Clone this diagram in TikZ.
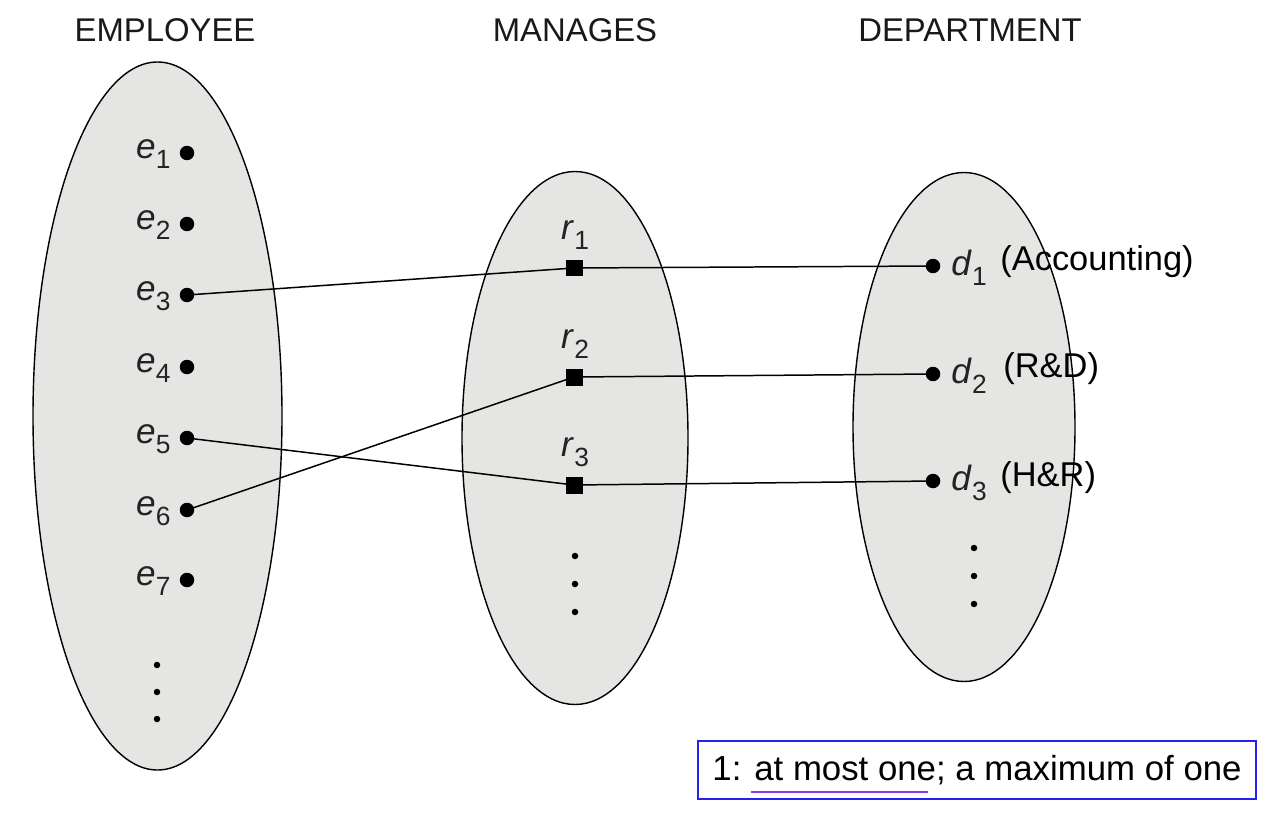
\documentclass[tikz,border=0pt]{standalone}
\usepackage{fontspec}
\setmainfont{Liberation Sans}
\definecolor{setfill}{RGB}{229,229,227}
\definecolor{labgray}{RGB}{35,35,35}
\definecolor{boxblue}{RGB}{35,35,235}
\definecolor{ulpurple}{RGB}{140,60,225}
\newcommand{\lab}[2]{\fontsize{20pt}{22pt}\selectfont\textit{#1}\kern0.2pt\raisebox{-0.55ex}{\fontsize{15pt}{16pt}\selectfont #2}}
\tikzset{
  setell/.style={ellipse, draw=black, line width=0.8pt, fill=setfill, inner sep=0pt},
  pt/.style={circle, fill=black, inner sep=0pt, minimum size=0.29cm},
  sq/.style={rectangle, fill=black, inner sep=0pt, minimum size=0.34cm},
  sm/.style={circle, fill=black, inner sep=0pt, minimum size=0.13cm},
  title/.style={font=\fontsize{18.7pt}{20pt}\selectfont, text=black!90},
  elab/.style={text=labgray, inner sep=0pt},
  extra/.style={font=\fontsize{19.6pt}{21pt}\selectfont, text=black, inner sep=0pt, anchor=west},
  link/.style={line width=0.85pt, black}
}
\usetikzlibrary{shapes.geometric}
\begin{document}
\begin{tikzpicture}[x=0.02cm,y=-0.02cm]
\useasboundingbox (0,0) rectangle (1280,814);
% sets
\node[setell, minimum width=249*0.02cm, minimum height=708*0.02cm] (E) at (157.5,416) {};
\node[setell, minimum width=226*0.02cm, minimum height=533*0.02cm] (M) at (575,438) {};
\node[setell, minimum width=222*0.02cm, minimum height=509*0.02cm] (D) at (964,427) {};
% titles
\node[title] (tE) at (165,30) {EMPLOYEE};
\node[title] (tM) at (575,30) {MANAGES};
\node[title] (tD) at (970,30) {DEPARTMENT};
% employees
\foreach \i/\y in {1/153,2/224,3/295,4/367,5/438,6/510,7/580}{
  \node[pt] (e\i) at (187,\y) {};
  \node[elab, anchor=east] (le\i) at (171,\y+1) {\lab{e}{\i}};
}
\node[sm] (ed1) at (157,665) {};
\node[sm] (ed2) at (157,692) {};
\node[sm] (ed3) at (157,719) {};
% relationships
\foreach \i/\y in {1/268,2/377,3/485}{
  \node[sq] (r\i) at (574,\y) {};
  \node[elab] (lr\i) at (575,\y-33) {\lab{r}{\i}};
}
\node[sm] (rd1) at (575,556) {};
\node[sm] (rd2) at (575,584) {};
\node[sm] (rd3) at (575,612) {};
% departments
\foreach \i/\y in {1/266,2/374,3/481}{
  \node[pt] (d\i) at (933,\y) {};
  \node[elab, anchor=west] (ld\i) at (951,\y+2) {\lab{d}{\i}};
}
\node[sm] (dd1) at (974,548) {};
\node[sm] (dd2) at (974,576) {};
\node[sm] (dd3) at (974,604) {};
\node[extra] (x1) at (1000,262) {(Accounting)};
\node[extra] (x2) at (1003,369) {(R\&D)};
\node[extra] (x3) at (1000,478) {(H\&R)};
% links
\draw[link] (e3.center) -- (r1.center);
\draw[link] (r1.center) -- (d1.center);
\draw[link] (e6.center) -- (r2.center);
\draw[link] (r2.center) -- (d2.center);
\draw[link] (e5.center) -- (r3.center);
\draw[link] (r3.center) -- (d3.center);
% note box
\node[draw=boxblue, line width=1.1pt, minimum width=558*0.02cm, minimum height=58*0.02cm, inner sep=0pt, font=\fontsize{19.8pt}{21pt}\selectfont] (note) at (977,770) {1: at most one; a maximum of one};
\draw[ulpurple, line width=1.5pt] (751,792) -- (928,792);
\end{tikzpicture}
\end{document}
